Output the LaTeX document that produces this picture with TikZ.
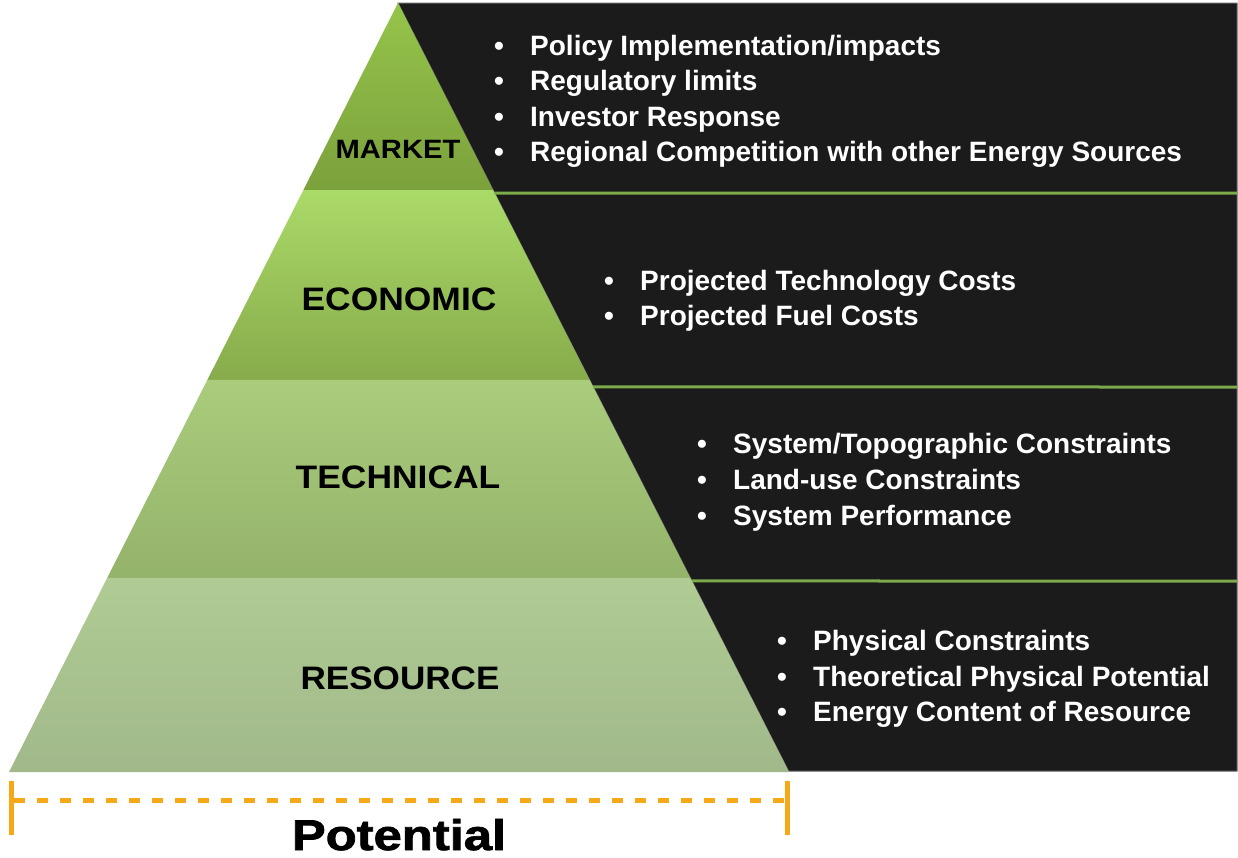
\documentclass[tikz,border=0pt]{standalone}
\usepackage{fontspec}
\setmainfont{Liberation Sans}
\newfontfamily\heavyfont[FakeBold=1.6]{Liberation Sans Bold}
\usetikzlibrary{calc}
\definecolor{darkbg}{HTML}{1B1B1B}
\definecolor{sepgreen}{HTML}{7DAB4C}
\definecolor{potorange}{HTML}{F5A818}
\definecolor{mkTop}{HTML}{95C44A}
\definecolor{mkBot}{HTML}{7BA13C}
\definecolor{ecTop}{HTML}{AADA68}
\definecolor{ecBot}{HTML}{87AB4B}
\definecolor{teTop}{HTML}{AACC7C}
\definecolor{teBot}{HTML}{94B36A}
\definecolor{reTop}{HTML}{B0CB93}
\definecolor{reBot}{HTML}{A1B98A}
\tikzset{
  items/.style={text=white, font=\bfseries\fontsize{28}{34}\selectfont, anchor=base west, inner sep=0pt},
  lbl/.style={text=black, font=\bfseries\fontsize{32.5}{38}\selectfont, anchor=base, inner sep=0pt},
  sepline/.style={sepgreen, line width=3pt},
}
\newcommand{\bul}[1]{\makebox[36pt][l]{\textbullet}#1}
\begin{document}
\begin{tikzpicture}[x=1pt,y=-1pt]
\useasboundingbox (0,0) rectangle (1238,857);
\coordinate (apex) at (398,3);
\coordinate (bl) at (9,772);
\coordinate (br) at (789,772);
\coordinate (tr) at (1237,3);
\coordinate (brr) at (1237,771);
% dark panel
\fill[darkbg, draw=black!60, line width=1pt] (apex) -- (tr) -- (brr) -- ($(apex)!0.9987!(br)$) -- cycle;
% band boundaries on the triangle
\coordinate (l1) at ($(apex)!0.2432!(bl)$); \coordinate (r1) at ($(apex)!0.2432!(br)$);
\coordinate (l2) at ($(apex)!0.4902!(bl)$); \coordinate (r2) at ($(apex)!0.4902!(br)$);
\coordinate (l3) at ($(apex)!0.7477!(bl)$); \coordinate (r3) at ($(apex)!0.7477!(br)$);
\shade[top color=mkTop, bottom color=mkBot] (apex) -- (r1) -- (l1) -- cycle;
\shade[top color=ecTop, bottom color=ecBot] (l1) -- (r1) -- (r2) -- (l2) -- cycle;
\shade[top color=teTop, bottom color=teBot] (l2) -- (r2) -- (r3) -- (l3) -- cycle;
\shade[top color=reTop, bottom color=reBot] (l3) -- (r3) -- (br) -- (bl) -- cycle;
% green separators
\coordinate (s1) at ($(apex)!0.2471!(br)$);
\coordinate (s2) at ($(apex)!0.4993!(br)$);
\coordinate (s3) at ($(apex)!0.7516!(br)$);
\coordinate (e1) at (1237,193);
\coordinate (e2) at (1237,387);
\coordinate (e3) at (1237,581);
\draw[sepline] (s1) -- (e1);
\draw[sepline] (s2) -- (e2);
\draw[sepline] (s3) -- (e3);
% labels
\node[lbl, font=\bfseries\fontsize{26.5}{30}\selectfont] (market) at (398,158) {\scalebox{1.1}[1]{MARKET}};
\node[lbl] (economic) at (399,310) {\scalebox{1.09}[1]{ECONOMIC}};
\node[lbl] (technical) at (398,488) {\scalebox{1.09}[1]{TECHNICAL}};
\node[lbl] (resource) at (400,689) {\scalebox{1.08}[1]{RESOURCE}};
% market items
\node[items] (m1) at (494,55) {\bul{Policy Implementation/impacts}};
\node[items] (m2) at (494,90.5) {\bul{Regulatory limits}};
\node[items] (m3) at (494,126) {\bul{Investor Response}};
\node[items] (m4) at (494,161.5) {\bul{Regional Competition with other Energy Sources}};
% economic items
\node[items] (c1) at (604,290) {\bul{Projected Technology Costs}};
\node[items] (c2) at (604,325) {\bul{Projected Fuel Costs}};
% technical items
\node[items] (t1) at (697,453) {\bul{System/Topographic Constraints}};
\node[items] (t2) at (697,489) {\bul{Land-use Constraints}};
\node[items] (t3) at (697,525) {\bul{System Performance}};
% resource items
\node[items] (r1t) at (777,650) {\bul{Physical Constraints}};
\node[items] (r2t) at (777,686) {\bul{Theoretical Physical Potential}};
\node[items] (r3t) at (777,721) {\bul{Energy Content of Resource}};
% potential bracket
\coordinate (pa) at (11,781);
\coordinate (pb) at (11,835);
\coordinate (pc) at (787,781);
\coordinate (pd) at (787,835);
\coordinate (da) at (14,800.5);
\coordinate (db) at (784,800.5);
\draw[potorange, line width=5pt] (pa) -- (pb);
\draw[potorange, line width=5pt] (pc) -- (pd);
\draw[potorange, line width=5.5pt, dash pattern=on 11pt off 12pt] (da) -- (db);
\node[lbl, font=\heavyfont\fontsize{43}{50}\selectfont] (potential) at (399,850) {\scalebox{1.18}[1]{Potential}};
\end{tikzpicture}
\end{document}
